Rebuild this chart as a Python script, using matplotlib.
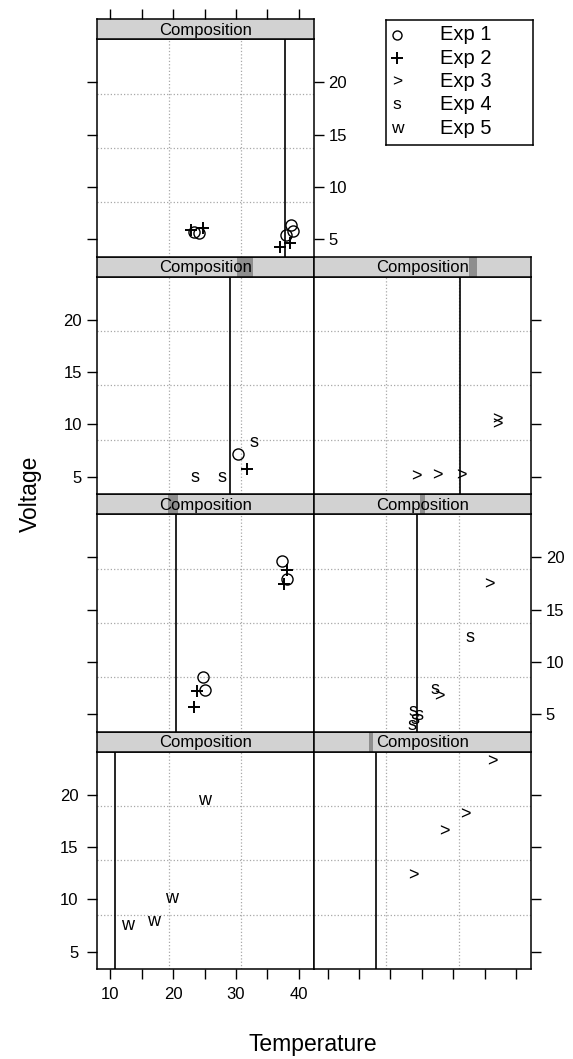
import matplotlib
matplotlib.use('Agg')
import matplotlib.pyplot as plt
from matplotlib.patches import Rectangle
from matplotlib.ticker import FixedLocator

plt.rcParams['font.family'] = ['Liberation Sans', 'DejaVu Sans']

# ---------------- data ----------------
# composition value (vertical line) for panels 1..7 (lattice order: bottom-left first)
composition = [10.8, 17.7, 20.4, 24.3, 29.0, 31.05, 37.8]
# shingle-level indicator in strip (fraction of strip width), None if not visible
level_lo = [None, 0.254, 0.328, 0.488, 0.645, 0.713, None]
level_hi = [None, 0.273, 0.374, 0.511, 0.720, 0.750, None]

exp_labels = ["Exp 1", "Exp 2", "Exp 3", "Exp 4", "Exp 5"]
exp_symbols = ["o", "+", ">", "s", "w"]

exp1_panel = [7, 7, 7, 7, 7, 5, 3, 3, 3, 3]
exp1_temp = [38.76, 39.1, 38.05, 23.4, 24.15, 30.4, 37.26, 38.2, 24.77, 25.05]
exp1_volt = [6.38, 5.84, 5.42, 5.7, 5.6, 7.17, 19.6, 17.9, 8.55, 7.34]

exp2_panel = [7, 7, 7, 7, 5, 3, 3, 3, 3]
exp2_temp = [38.6, 37.0, 22.9, 24.8, 31.75, 38.2, 37.67, 23.8, 23.34]
exp2_volt = [4.63, 4.25, 5.9, 6.1, 5.8, 18.74, 17.44, 7.24, 5.68]

exp3_panel = [6, 6, 6, 6, 6, 4, 4, 2, 2, 2, 2]
exp3_temp = [24.15, 27.4, 31.3, 37.0, 37.0, 35.7, 27.86, 36.2, 31.94, 28.6, 23.66]
exp3_volt = [5.0, 5.07, 5.07, 10.45, 9.95, 17.4, 6.64, 23.17, 18.07, 16.47, 12.27]

exp4_panel = [5, 5, 5, 4, 4, 4, 4, 4, 4]
exp4_temp = [32.9, 23.5, 27.8, 32.75, 27.07, 23.6, 24.57, 23.9, 23.4]
exp4_volt = [8.25, 4.9, 4.9, 12.34, 7.34, 5.26, 4.85, 4.47, 3.9]

exp5_panel = [1, 1, 1, 1]
exp5_temp = [25.05, 19.74, 12.74, 16.83]
exp5_volt = [19.44, 10.11, 7.56, 7.87]

x_ticks = [10, 15, 20, 25, 30, 35, 40]
x_ticklabels = {10: "10", 20: "20", 30: "30", 40: "40"}
y_ticks = [5, 10, 15, 20]
xlim = (7.8, 42.4)
ylim = (3.35, 24.1)

series = [
    (exp1_panel, exp1_temp, exp1_volt),
    (exp2_panel, exp2_temp, exp2_volt),
    (exp3_panel, exp3_temp, exp3_volt),
    (exp4_panel, exp4_temp, exp4_volt),
    (exp5_panel, exp5_temp, exp5_volt),
]

# ---------------- layout ----------------
W, H = 573, 1059
fig = plt.figure(figsize=(W / 100, H / 100), dpi=100)
col_left = [96.5, 313.8]
pw = 217.3
ph = 217.5
sh = 20.0
panel_bottom = [256.7, 494.2, 731.7, 969.2]

strip_col = '#d2d2d2'
grid_col = '#a8a8a8'

axes = {}
for p in range(1, 8):
    rb = (p - 1) // 2
    c = (p - 1) % 2
    rt = 3 - rb
    left = col_left[c] / W
    bpx = panel_bottom[rt]
    ax = fig.add_axes([left, 1 - bpx / H, pw / W, ph / H])
    sax = fig.add_axes([left, 1 - (bpx - ph) / H, pw / W, sh / H], sharex=ax)
    ax.set_xlim(*xlim)
    ax.set_ylim(*ylim)
    for s in ax.spines.values():
        s.set_linewidth(1.1)
    # grid: thirds in x, quarters in y
    for k in (1, 2):
        ax.axvline(xlim[0] + k * (xlim[1] - xlim[0]) / 3, color=grid_col, lw=0.9, ls=':', zorder=0)
    for k in (1, 2, 3):
        ax.axhline(ylim[0] + k * (ylim[1] - ylim[0]) / 4, color=grid_col, lw=0.9, ls=':', zorder=0)
    ax.axvline(composition[p - 1], color='black', lw=1.2, zorder=1)

    # ticks
    ax.tick_params(which='both', direction='out', length=7, width=1.0, labelsize=12,
                   left=False, right=False, top=False, bottom=False,
                   labelleft=False, labelright=False, labeltop=False, labelbottom=False)
    ax.yaxis.set_major_locator(FixedLocator(y_ticks))
    ax.xaxis.set_major_locator(FixedLocator(x_ticks))
    ax.set_xticklabels([x_ticklabels.get(t, "") for t in x_ticks])
    rightmost = (c == 1) or (p == 7)
    if c == 0:
        ax.tick_params(left=True, labelleft=(rt in (1, 3)))
    if rightmost:
        ax.tick_params(right=True, labelright=(rt in (0, 2)))
    if rt == 3:
        ax.tick_params(bottom=True, labelbottom=(c == 0), pad=6)

    # strip
    sax.set_ylim(0, 1)
    sax.set_facecolor(strip_col)
    for s in sax.spines.values():
        s.set_linewidth(1.1)
    sax.tick_params(which='both', left=False, right=False, bottom=False, top=False,
                    labelleft=False, labelright=False, labelbottom=False, labeltop=False)
    if level_lo[p - 1] is not None:
        sax.add_patch(Rectangle((level_lo[p - 1], 0), level_hi[p - 1] - level_lo[p - 1], 1,
                                transform=sax.transAxes, facecolor='#8e8e8e', edgecolor='none'))
    sax.text(0.5, 0.45, "Composition", transform=sax.transAxes, ha='center', va='center',
             fontsize=12)
    if p == 7:
        sax.tick_params(top=True, direction='out', length=7, width=1.0)
    axes[p] = ax

# points
for si, (pan, tx, vy) in enumerate(series):
    sym = exp_symbols[si]
    for p, x, y in zip(pan, tx, vy):
        ax = axes[p]
        if sym == 'o':
            ax.plot([x], [y], marker='o', ms=8, mfc='none', mec='black', mew=1.0, ls='none', zorder=3)
        elif sym == '+':
            ax.plot([x], [y], marker='+', ms=9, mec='black', mew=1.4, ls='none', zorder=3)
        else:
            ax.text(x, y, sym, ha='center', va='center', fontsize=13, zorder=3)

# legend
lx0, lx1, ly0, ly1 = 386, 533, 20, 145
lax = fig.add_axes([lx0 / W, 1 - ly1 / H, (lx1 - lx0) / W, (ly1 - ly0) / H])
lax.set_xlim(lx0, lx1)
lax.set_ylim(ly1, ly0)
lax.set_xticks([])
lax.set_yticks([])
for s in lax.spines.values():
    s.set_linewidth(1.1)
for i, (lab, sym) in enumerate(zip(exp_labels, exp_symbols)):
    yy = 35 + i * 23.3
    if sym == 'o':
        lax.plot([397], [yy], marker='o', ms=6.5, mfc='none', mec='black', mew=1.0)
    elif sym == '+':
        lax.plot([397], [yy], marker='+', ms=8, mec='black', mew=1.4)
    else:
        lax.text(397, yy, sym, ha='center', va='center', fontsize=12.5)
    lax.text(440, yy, lab, ha='left', va='center', fontsize=14.5)

fig.text(30 / W, 1 - 494 / H, "Voltage", rotation=90, ha='center', va='center', fontsize=16.5)
fig.text(313 / W, 1 - 1045 / H, "Temperature", ha='center', va='center', fontsize=16.5)

fig.savefig('out.png', dpi=100)
